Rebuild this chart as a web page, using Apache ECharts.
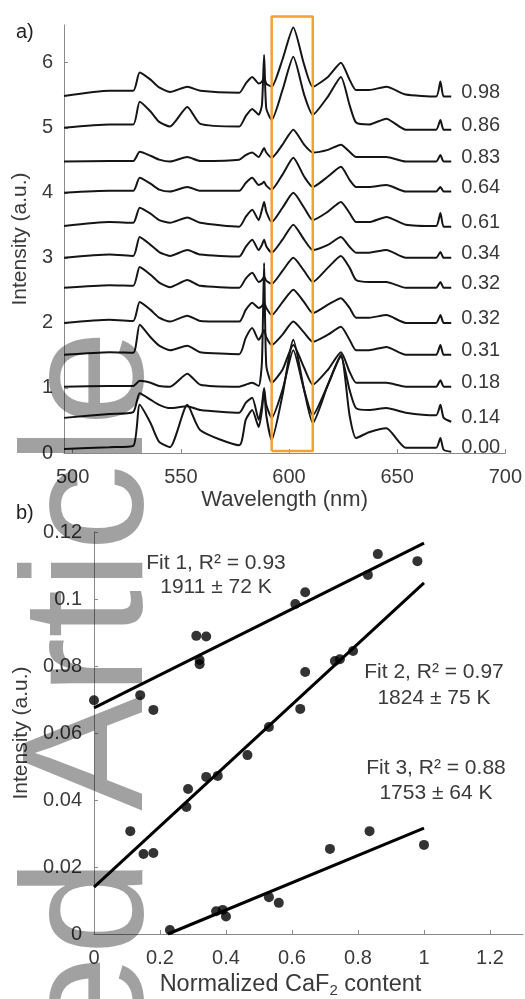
<!DOCTYPE html>
<html>
<head>
<meta charset="utf-8">
<script src="https://cdn.jsdelivr.net/npm/echarts@6/dist/echarts.min.js"></script>
<style>
  html, body { margin: 0; padding: 0; background: #fff; }
  #chart { width: 525px; height: 999px; }
</style>
</head>
<body>
<div id="chart"></div>
<script>
// a) offset emission spectra, one per CaF2 content
const wavelengths = [496, 517, 528, 531, 536, 540, 545, 553, 559, 577, 580, 583, 586, 587.5, 588.5, 589.5, 592, 597, 602, 607, 611, 618, 624, 628, 631, 637, 645, 654, 668, 670, 671.5, 675]
const spectrumNames = ['0.98', '0.86', '0.83', '0.64', '0.61', '0.34', '0.32', '0.32', '0.31', '0.18', '0.14', '0.00']
const spec098 = [5.49, 5.57, 5.57, 5.85, 5.74, 5.62, 5.55, 5.63, 5.57, 5.54, 5.68, 5.78, 5.68, 5.71, 5.77, 5.68, 5.63, 6.05, 6.54, 5.97, 5.63, 5.78, 6.00, 5.74, 5.58, 5.58, 5.63, 5.51, 5.48, 5.71, 5.48, 5.48]
const spec086 = [5.00, 5.05, 5.05, 5.40, 5.25, 5.09, 5.02, 5.32, 5.06, 5.02, 5.18, 5.29, 5.20, 5.35, 6.12, 5.30, 5.12, 5.58, 6.09, 5.51, 5.20, 5.48, 5.78, 5.35, 5.08, 5.05, 5.14, 4.97, 4.97, 5.12, 4.97, 4.97]
const spec083 = [4.48, 4.49, 4.49, 4.63, 4.57, 4.51, 4.48, 4.55, 4.49, 4.51, 4.58, 4.62, 4.55, 4.63, 4.69, 4.62, 4.54, 4.74, 4.97, 4.74, 4.62, 4.66, 4.74, 4.63, 4.55, 4.55, 4.55, 4.48, 4.48, 4.58, 4.48, 4.48]
const spec064 = [4.00, 4.03, 4.03, 4.23, 4.14, 4.05, 4.02, 4.09, 4.03, 4.03, 4.15, 4.23, 4.12, 4.14, 4.17, 4.11, 4.05, 4.28, 4.54, 4.25, 4.09, 4.25, 4.40, 4.20, 4.09, 4.09, 4.12, 4.02, 4.02, 4.09, 4.02, 4.02]
const spec061 = [3.49, 3.55, 3.54, 3.77, 3.68, 3.58, 3.54, 3.62, 3.54, 3.48, 3.63, 3.74, 3.58, 3.74, 3.86, 3.71, 3.55, 3.77, 4.00, 3.77, 3.58, 3.71, 3.86, 3.69, 3.55, 3.55, 3.63, 3.51, 3.49, 3.69, 3.48, 3.48]
const spec034 = [3.00, 3.05, 3.03, 3.32, 3.20, 3.09, 3.03, 3.12, 3.05, 3.02, 3.17, 3.28, 3.12, 3.20, 3.28, 3.18, 3.08, 3.28, 3.51, 3.28, 3.12, 3.20, 3.32, 3.17, 3.08, 3.08, 3.12, 3.00, 3.00, 3.09, 3.00, 3.00]
const spec032a = [2.54, 2.58, 2.57, 2.86, 2.74, 2.62, 2.55, 2.66, 2.57, 2.54, 2.68, 2.77, 2.63, 2.66, 2.71, 2.65, 2.60, 2.80, 3.00, 2.80, 2.63, 2.85, 3.03, 2.85, 2.66, 2.63, 2.63, 2.54, 2.54, 2.63, 2.54, 2.54]
const spec032b = [2.00, 2.05, 2.03, 2.32, 2.20, 2.08, 2.02, 2.11, 2.03, 2.02, 2.20, 2.31, 2.23, 2.26, 2.31, 2.23, 2.12, 2.32, 2.51, 2.32, 2.15, 2.28, 2.38, 2.23, 2.08, 2.08, 2.12, 2.00, 2.00, 2.12, 2.00, 2.00]
const spec031 = [1.51, 1.55, 1.54, 1.97, 1.78, 1.65, 1.58, 1.65, 1.55, 1.52, 1.77, 1.92, 1.74, 1.82, 1.89, 1.78, 1.66, 1.82, 2.02, 1.85, 1.71, 1.82, 1.94, 1.74, 1.58, 1.58, 1.63, 1.51, 1.51, 1.66, 1.51, 1.51]
const spec018 = [1.02, 1.03, 1.03, 1.11, 1.08, 1.03, 1.02, 1.22, 1.05, 1.02, 1.05, 1.08, 1.03, 1.40, 2.92, 1.35, 1.08, 1.28, 1.66, 1.31, 1.05, 1.28, 1.55, 1.25, 1.08, 1.08, 1.08, 1.02, 1.02, 1.12, 1.02, 1.02]
const spec014 = [0.54, 0.60, 0.63, 0.92, 0.82, 0.74, 0.69, 0.72, 0.66, 0.62, 0.77, 0.85, 0.51, 0.74, 1.00, 0.74, 0.54, 0.97, 1.58, 0.97, 0.58, 1.05, 1.48, 0.97, 0.69, 0.66, 0.69, 0.62, 0.58, 0.74, 0.54, 0.48]
const spec000 = [0.06, 0.09, 0.11, 0.74, 0.46, 0.17, 0.09, 0.74, 0.35, 0.12, 0.51, 0.66, 0.40, 0.66, 0.97, 0.58, 0.20, 0.89, 1.74, 0.97, 0.46, 1.05, 1.51, 0.58, 0.23, 0.32, 0.38, 0.08, 0.08, 0.23, 0.05, 0.02]
const spectra = [spec098, spec086, spec083, spec064, spec061, spec034, spec032a, spec032b, spec031, spec018, spec014, spec000]
// highlighted band (nm) and its top
const boxRange = [592, 611]
const boxTop = 6.71

// b) peak intensity vs normalized CaF2 content
const fit1X = [0, 0.14, 0.18, 0.31, 0.32, 0.32, 0.34, 0.61, 0.64, 0.83, 0.86, 0.98]
const fit1Y = [0.0698, 0.0713, 0.0669, 0.0890, 0.0818, 0.0805, 0.0888, 0.0985, 0.1020, 0.1072, 0.1134, 0.1113]
const fit2X = [0.11, 0.15, 0.18, 0.28, 0.285, 0.34, 0.375, 0.465, 0.53, 0.625, 0.64, 0.73, 0.745, 0.785]
const fit2Y = [0.0307, 0.0239, 0.0242, 0.0379, 0.0433, 0.0469, 0.0472, 0.0534, 0.0618, 0.0672, 0.0782, 0.0815, 0.0820, 0.0845]
const fit3X = [0.23, 0.37, 0.39, 0.40, 0.53, 0.56, 0.715, 0.835, 1.0]
const fit3Y = [0.0012, 0.0068, 0.0072, 0.0052, 0.0110, 0.0093, 0.0254, 0.0307, 0.0266]
const fit1Line = [[0, 0.0675], [1, 0.1167]]
const fit2Line = [[0, 0.0140], [1, 0.1048]]
const fit3Line = [[0.224, 0], [1, 0.0316]]
const fitTexts = [
  ['Fit 1, R² = 0.93', '1911 ± 72 K'],
  ['Fit 2, R² = 0.97', '1824 ± 75 K'],
  ['Fit 3, R² = 0.88', '1753 ± 64 K']
]

const xTicksA = [500, 550, 600, 650, 700]
const yTicksA = [0, 1, 2, 3, 4, 5, 6]
const xTicksB = [0, 0.2, 0.4, 0.6, 0.8, 1, 1.2]

const FONT = 'Liberation Sans, Arial, sans-serif'
const TXT = '#3a3a3a'
const AX = '#8a8a8a'

const chart = echarts.init(document.getElementById('chart'))

function pairs(xs, ys) {
  return xs.map((x, i) => [x, ys[i]])
}

const series = []
spectra.forEach((s, i) => {
  series.push({
    name: spectrumNames[i],
    type: 'line',
    xAxisIndex: 0,
    yAxisIndex: 0,
    data: pairs(wavelengths, s),
    showSymbol: false,
    smooth: 0.2,
    silent: true,
    lineStyle: { color: '#151515', width: 2 },
    endLabel: {
      show: true,
      formatter: '{a}',
      distance: 10,
      offset: [0, -4],
      fontSize: 20,
      fontFamily: FONT,
      color: TXT
    },
    z: 2
  })
})
series.push({
  type: 'line',
  xAxisIndex: 0,
  yAxisIndex: 0,
  data: [[boxRange[0], 0.03], [boxRange[0], boxTop], [boxRange[1], boxTop], [boxRange[1], 0.03], [boxRange[0], 0.03]],
  showSymbol: false,
  clip: false,
  silent: true,
  lineStyle: { color: '#F2A233', width: 2.5 },
  z: 3
})
;[[fit1X, fit1Y], [fit2X, fit2Y], [fit3X, fit3Y]].forEach(([xs, ys]) => {
  series.push({
    type: 'scatter',
    xAxisIndex: 1,
    yAxisIndex: 1,
    data: pairs(xs, ys),
    symbolSize: 10,
    silent: true,
    itemStyle: { color: '#000' },
    z: 3
  })
})
;[fit1Line, fit2Line, fit3Line].forEach(l => {
  series.push({
    type: 'line',
    xAxisIndex: 1,
    yAxisIndex: 1,
    data: l,
    showSymbol: false,
    silent: true,
    lineStyle: { color: '#000', width: 3 },
    z: 2
  })
})

const textPos = [[216, 563, 587], [434, 672, 698], [436, 768, 793]]
const graphics = []
fitTexts.forEach((t, i) => {
  graphics.push({
    type: 'text', x: textPos[i][0], y: textPos[i][1],
    style: { text: t[0], font: '21px ' + FONT, fill: TXT, textAlign: 'center', textVerticalAlign: 'middle' }
  })
  graphics.push({
    type: 'text', x: textPos[i][0], y: textPos[i][2],
    style: { text: t[1], font: '21px ' + FONT, fill: TXT, textAlign: 'center', textVerticalAlign: 'middle' }
  })
})
graphics.push({
  type: 'text', x: 16, y: 22,
  style: { text: 'a)', font: '20px ' + FONT, fill: '#222' }
})
graphics.push({
  type: 'text', x: 16, y: 503,
  style: { text: 'b)', font: '20px ' + FONT, fill: '#222' }
})
// journal watermark
graphics.push({
  type: 'text', x: 94, y: 330, rotation: Math.PI / 2, z: 100, silent: true,
  style: { text: 'Accepted Article', font: '173px ' + FONT, fill: 'rgba(0,0,0,0.37)', textAlign: 'right', textVerticalAlign: 'middle' }
})

const axisCommon = {
  axisLine: { lineStyle: { color: AX, width: 1 } },
  splitLine: { show: false },
  nameLocation: 'middle'
}

chart.setOption({
  animation: false,
  textStyle: { fontFamily: FONT },
  grid: [
    { left: 64, top: 25, width: 443, height: 428 },
    { left: 94, top: 532, width: 429, height: 402 }
  ],
  xAxis: [
    Object.assign({}, axisCommon, {
      type: 'value', gridIndex: 0, min: 496, max: 700,
      axisTick: { inside: true, length: 4, customValues: xTicksA, lineStyle: { color: AX } },
      axisLabel: { customValues: xTicksA, fontSize: 20, color: TXT, margin: 14 },
      name: 'Wavelength (nm)', nameGap: 36,
      nameTextStyle: { fontSize: 22, color: TXT }
    }),
    Object.assign({}, axisCommon, {
      type: 'value', gridIndex: 1, min: 0, max: 1.3,
      axisTick: { inside: true, length: 4, customValues: xTicksB, lineStyle: { color: AX } },
      axisLabel: { customValues: xTicksB, fontSize: 20, color: TXT, margin: 14,
        formatter: v => String(Math.round(v * 10) / 10) },
      name: '{a|Normalized CaF}{s|2}{a| content}', nameGap: 37,
      nameTextStyle: {
        color: TXT,
        padding: [0, 36, 0, 0],
        rich: {
          a: { fontSize: 23.5, color: TXT, fontFamily: FONT },
          s: { fontSize: 15, color: TXT, fontFamily: FONT, padding: [12, 0, 0, 0] }
        }
      }
    })
  ],
  yAxis: [
    Object.assign({}, axisCommon, {
      type: 'value', gridIndex: 0, min: 0, max: 6.58,
      axisTick: { inside: true, length: 4, customValues: yTicksA, lineStyle: { color: AX } },
      axisLabel: { customValues: yTicksA, fontSize: 20, color: TXT, margin: 11 },
      name: 'Intensity (a.u.)', nameGap: 21,
      nameTextStyle: { fontSize: 21, color: TXT }
    }),
    Object.assign({}, axisCommon, {
      type: 'value', gridIndex: 1, min: 0, max: 0.12, interval: 0.02,
      axisTick: { inside: true, length: 4, lineStyle: { color: AX } },
      axisLabel: { fontSize: 20, color: TXT, margin: 12 },
      name: 'Intensity (a.u.)', nameGap: 51,
      nameTextStyle: { fontSize: 21, color: TXT }
    })
  ],
  graphic: graphics,
  series: series
})
</script>
</body>
</html>
